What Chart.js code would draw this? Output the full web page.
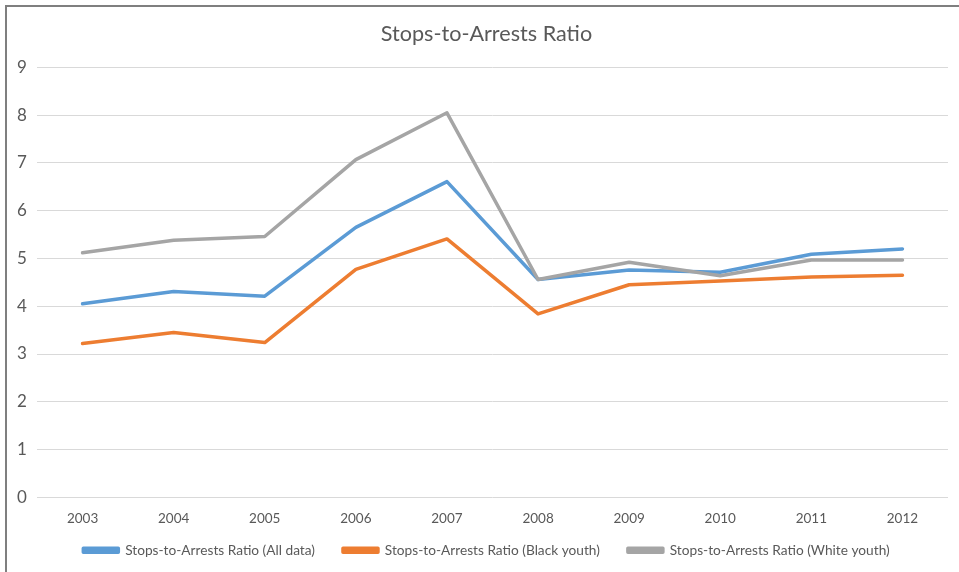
<!DOCTYPE html>
<html>
<head>
<meta charset="utf-8">
<title>Stops-to-Arrests Ratio</title>
<script src="https://cdn.jsdelivr.net/npm/chart.js@4/dist/chart.umd.min.js"></script>
<style>
  html, body { margin: 0; padding: 0; background: #fff; }
  #wrap { position: relative; width: 959px; height: 572px; overflow: hidden; }
  #frame {
    position: absolute; left: 5px; top: 5px; width: 960px; height: 580px;
    border-left: 2px solid #7f7f7f; border-top: 2px solid #7f7f7f;
    box-sizing: border-box; pointer-events: none;
  }
  canvas { position: absolute; left: 0; top: 0; }
</style>
</head>
<body>
<div id="wrap">
  <canvas id="ratioChart" width="959" height="579"></canvas>
  <div id="frame"></div>
</div>
<script>
const years = ['2003', '2004', '2005', '2006', '2007', '2008', '2009', '2010', '2011', '2012'];
const allData = [4.05, 4.31, 4.21, 5.65, 6.61, 4.56, 4.76, 4.71, 5.09, 5.20];
const blackYouth = [3.22, 3.45, 3.24, 4.77, 5.41, 3.84, 4.45, 4.53, 4.61, 4.65];
const whiteYouth = [5.12, 5.38, 5.46, 7.07, 8.05, 4.56, 4.92, 4.64, 4.97, 4.97];

const textGrey = '#595959';
const font = 'Lato, "Open Sans", sans-serif';

// order: grey line sits on top, blue underneath
function series(label, data, color, order) {
  return {
    label,
    data,
    order,
    borderColor: color,
    backgroundColor: color,
    borderWidth: 3.5,
    pointRadius: 0,
    tension: 0,
    borderJoinStyle: 'round',
    borderCapStyle: 'round'
  };
}

// pull the legend up a little closer to the year labels
const legendNudge = {
  id: 'legendNudge',
  afterLayout(chart) {
    const legend = chart.legend;
    if (!legend) return;
    legend.top -= 12;
    legend.bottom -= 12;
  }
};

new Chart(document.getElementById('ratioChart'), {
  type: 'line',
  data: {
    labels: years,
    datasets: [
      series('Stops-to-Arrests Ratio (All data)', allData, '#5b9bd5', 2),
      series('Stops-to-Arrests Ratio (Black youth)', blackYouth, '#ed7d31', 1),
      series('Stops-to-Arrests Ratio (White youth)', whiteYouth, '#a5a5a5', 0)
    ]
  },
  plugins: [legendNudge],
  options: {
    responsive: false,
    animation: false,
    layout: { padding: { left: 25, right: 11, top: 0, bottom: 0 } },
    scales: {
      x: {
        offset: true,
        grid: { display: false, drawTicks: false },
        border: { display: false },
        ticks: { color: textGrey, font: { family: font, size: 13.5 }, padding: 13 },
        afterFit(scale) { scale.height = 30; }
      },
      y: {
        min: 0,
        max: 9,
        ticks: {
          stepSize: 1,
          color: textGrey,
          font: { family: font, size: 17 },
          mirror: true,
          padding: -20
        },
        grid: { color: '#d9d9d9', lineWidth: 1, drawTicks: false },
        border: { display: false },
        afterFit(scale) { scale.width = 12; }
      }
    },
    plugins: {
      title: {
        display: true,
        text: 'Stops-to-Arrests Ratio',
        color: textGrey,
        font: { family: font, size: 21.6, weight: 'normal' },
        padding: { top: 21, bottom: 20.5 }
      },
      legend: {
        position: 'bottom',
        labels: {
          color: textGrey,
          font: { family: font, size: 13.7 },
          boxWidth: 35,
          boxHeight: 4,
          padding: 28,
          sort: (a, b) => a.datasetIndex - b.datasetIndex
        }
      },
      tooltip: { enabled: false }
    }
  }
});
</script>
</body>
</html>
